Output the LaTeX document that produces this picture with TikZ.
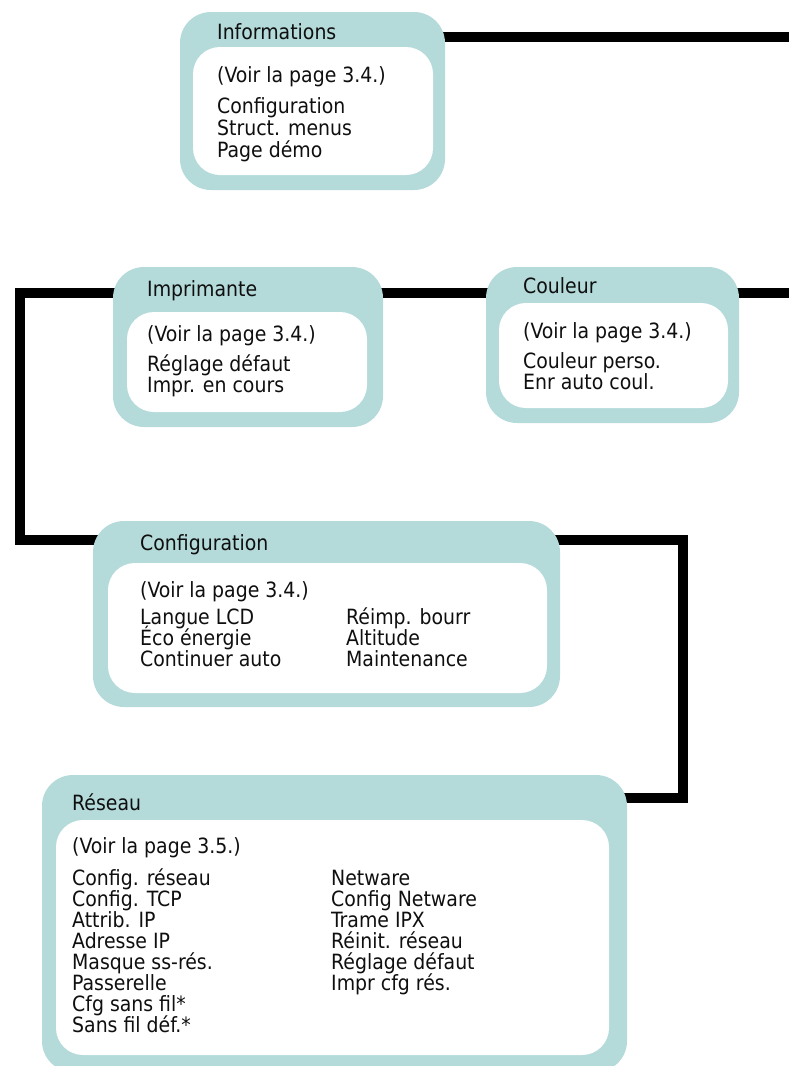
\documentclass[tikz,border=0pt]{standalone}
\usepackage{fontspec}
\setmainfont{DejaVu Sans Condensed}
\usetikzlibrary{backgrounds}
\definecolor{boxteal}{RGB}{180,218,218}
\definecolor{txt}{RGB}{15,15,15}
\begin{document}
\begin{tikzpicture}[x=1pt,y=-1pt,
  outerbox/.style={draw=none, fill=boxteal, rounded corners=31pt, inner sep=0pt},
  innerbox/.style={draw=none, fill=white, rounded corners=27pt, inner sep=0pt},
  lbl/.style={anchor=base west, inner sep=0pt, font=\fontsize{21}{24}\selectfont, text=txt},
  conn/.style={line width=10pt, draw=black, line join=miter, line cap=butt}]
\useasboundingbox (0,0) rectangle (788,1066);

% boxes
\node[outerbox, minimum width=265pt, minimum height=178pt] (info) at (312.5,101) {};
\node[innerbox, minimum width=240pt, minimum height=128pt] (infoIn) at (313,111) {};
\node[outerbox, minimum width=270pt, minimum height=160pt] (impr) at (248,347) {};
\node[innerbox, minimum width=240pt, minimum height=100pt] (imprIn) at (247,362) {};
\node[outerbox, minimum width=253pt, minimum height=156pt] (coul) at (612.5,345) {};
\node[innerbox, minimum width=229pt, minimum height=105pt] (coulIn) at (613.5,355.5) {};
\node[outerbox, minimum width=467pt, minimum height=186pt] (conf) at (326.5,614) {};
\node[innerbox, minimum width=439pt, minimum height=130pt] (confIn) at (327.5,628) {};
\node[outerbox, minimum width=585pt, minimum height=297pt] (res) at (334.5,923.5) {};
\node[innerbox, minimum width=553pt, minimum height=235pt] (resIn) at (332.5,937.5) {};

% connectors
\coordinate (infoEnd) at (800,36.5);
\coordinate (lft1) at (20,293);
\coordinate (lft2) at (20,540);
\coordinate (coulEnd) at (800,293);
\coordinate (rt1) at (683,540);
\coordinate (rt2) at (683,797.5);
\begin{scope}[on background layer]
  \draw[conn] (info.center |- infoEnd) -- (infoEnd);
  \draw[conn] (impr.center |- lft1) -- (lft1) -- (lft2) -- (conf.center |- lft2);
  \draw[conn] (impr.center |- lft1) -- (coul.center |- lft1);
  \draw[conn] (coul.center |- coulEnd) -- (coulEnd);
  \draw[conn] (conf.center |- rt1) -- (rt1) -- (rt2) -- (res.center |- rt2);
\end{scope}

% Informations
\node[lbl] (infoT) at (217,39) {Informations};
\node[lbl] (infoV) at (217,82) {(Voir la page 3.4.)};
\node[lbl] (info1) at (217,113) {Configuration};
\node[lbl] (info2) at (217,135) {Struct. menus};
\node[lbl] (info3) at (217,157) {Page démo};

% Imprimante
\node[lbl] (imprT) at (147,296) {Imprimante};
\node[lbl] (imprV) at (147,341) {(Voir la page 3.4.)};
\node[lbl] (impr1) at (147,371) {Réglage défaut};
\node[lbl] (impr2) at (147,392) {Impr. en cours};

% Couleur
\node[lbl] (coulT) at (523,293) {Couleur};
\node[lbl] (coulV) at (523,338) {(Voir la page 3.4.)};
\node[lbl] (coul1) at (523,368) {Couleur perso.};
\node[lbl] (coul2) at (523,389) {Enr auto coul.};

% Configuration
\node[lbl] (confT) at (140,550) {Configuration};
\node[lbl] (confV) at (140,597) {(Voir la page 3.4.)};
\node[lbl] (conf1) at (140,624) {Langue LCD};
\node[lbl] (conf2) at (140,645) {Éco énergie};
\node[lbl] (conf3) at (140,666) {Continuer auto};
\node[lbl] (conf4) at (346,624) {Réimp. bourr};
\node[lbl] (conf5) at (346,645) {Altitude};
\node[lbl] (conf6) at (346,666) {Maintenance};

% Reseau
\node[lbl] (resT) at (72,810) {Réseau};
\node[lbl] (resV) at (72,853) {(Voir la page 3.5.)};
\node[lbl] (res1) at (72,885) {Config. réseau};
\node[lbl] (res2) at (72,906) {Config. TCP};
\node[lbl] (res3) at (72,927) {Attrib. IP};
\node[lbl] (res4) at (72,948) {Adresse IP};
\node[lbl] (res5) at (72,969) {Masque ss-rés.};
\node[lbl] (res6) at (72,990) {Passerelle};
\node[lbl] (res7) at (72,1011) {Cfg sans fil*};
\node[lbl] (res8) at (72,1032) {Sans fil déf.*};
\node[lbl] (res9) at (331,885) {Netware};
\node[lbl] (res10) at (331,906) {Config Netware};
\node[lbl] (res11) at (331,927) {Trame IPX};
\node[lbl] (res12) at (331,948) {Réinit. réseau};
\node[lbl] (res13) at (331,969) {Réglage défaut};
\node[lbl] (res14) at (331,990) {Impr cfg rés.};
\end{tikzpicture}
\end{document}
